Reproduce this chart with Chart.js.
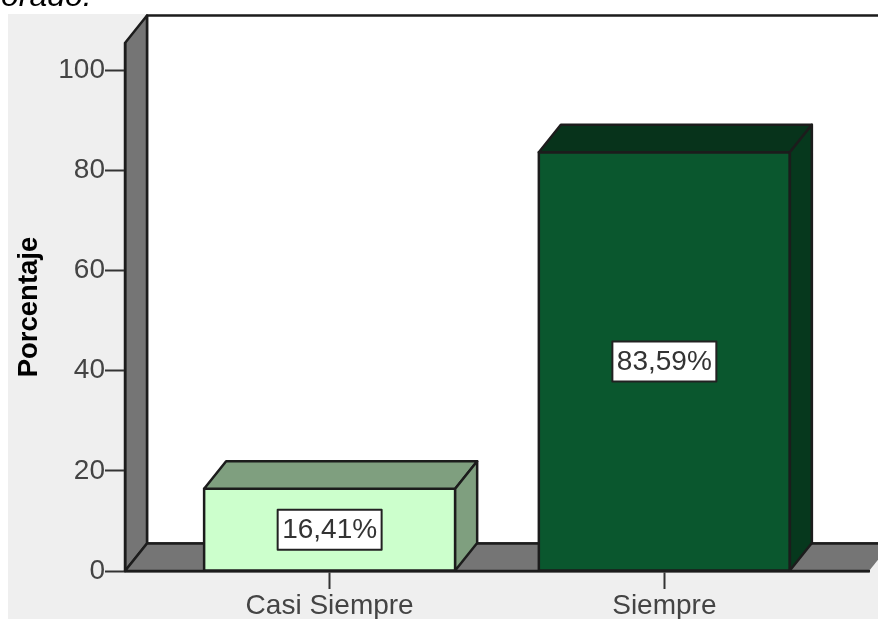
<!DOCTYPE html>
<html>
<head>
<meta charset="utf-8">
<title>Porcentaje</title>
<script src="https://cdn.jsdelivr.net/npm/chart.js@4/dist/chart.umd.min.js"></script>
<style>
    html, body { margin: 0; padding: 0; background: #fff; overflow: hidden; }
    #wrap { position: relative; width: 878px; height: 619px; overflow: hidden; }
    #clipped { position: absolute; left: 1px; top: -23px; font: italic 32px "Liberation Sans", Arial, sans-serif; color: #000; }
    canvas { display: block; }
</style>
</head>
<body>
<div id="wrap">
    <canvas id="chart" width="878" height="619"></canvas>
    <div id="clipped">orado.</div>
</div>
<script>
const categories = ['Casi Siempre', 'Siempre'];
const percentages = [16.41, 83.59];
const valueLabels = ['16,41%', '83,59%'];
const yTicks = [0, 20, 40, 60, 80, 100];

const barFront = ['#ccffcc', '#0a572e'];
const barSide = ['#7f9f7f', '#06381d'];
const barTop = ['#7f9f7f', '#07331b'];

const depthX = 22;
const depthY = 27.5;
const lineColor = '#1c1c1c';

function outline(ctx, points, fill, closed) {
    ctx.beginPath();
    points.forEach((p, i) => i ? ctx.lineTo(p[0], p[1]) : ctx.moveTo(p[0], p[1]));
    if (fill) {
        ctx.fillStyle = fill;
        ctx.fill();
    }
    if (closed) ctx.closePath();
    ctx.lineWidth = 2.5;
    ctx.strokeStyle = lineColor;
    ctx.lineJoin = 'round';
    ctx.stroke();
}

// panel background, drawn under the axes
const panel = {
    id: 'panel',
    beforeDraw(chart) {
        const { ctx, chartArea: a } = chart;
        ctx.save();
        ctx.fillStyle = '#efefef';
        ctx.fillRect(8, 14, 870, 605);
        outline(ctx, [[a.left + depthX, a.top - depthY], [a.right + depthX, a.top - depthY], [a.right + depthX, a.bottom - depthY], [a.left + depthX, a.bottom - depthY]], '#ffffff', true);
        outline(ctx, [[a.left, a.top], [a.left + depthX, a.top - depthY], [a.left + depthX, a.bottom - depthY], [a.left, a.bottom]], '#757575', true);
        // floor has no dark edge on its right end
        outline(ctx, [[a.right, a.bottom], [a.left, a.bottom], [a.left + depthX, a.bottom - depthY], [a.right + depthX, a.bottom - depthY]], '#757575', false);
        ctx.restore();
    }
};

// outline, top and side faces of the bars, then the value boxes
const bars3d = {
    id: 'bars3d',
    afterDatasetsDraw(chart) {
        const ctx = chart.ctx;
        chart.getDatasetMeta(0).data.forEach((bar, i) => {
            const p = bar.getProps(['x', 'y', 'base', 'width'], true);
            const l = p.x - p.width / 2;
            const r = p.x + p.width / 2;
            ctx.save();
            outline(ctx, [[l, p.y], [r, p.y], [r, p.base], [l, p.base]], null, true);
            outline(ctx, [[l, p.y], [l + depthX, p.y - depthY], [r + depthX, p.y - depthY], [r, p.y]], barTop[i], true);
            outline(ctx, [[r, p.y], [r + depthX, p.y - depthY], [r + depthX, p.base - depthY], [r, p.base]], barSide[i], true);

            ctx.font = '28px "Liberation Sans", Arial, sans-serif';
            const w = ctx.measureText(valueLabels[i]).width + 9;
            const h = 40;
            const cy = (p.y + p.base) / 2;
            ctx.fillStyle = '#ffffff';
            ctx.strokeStyle = '#222222';
            ctx.lineWidth = 2;
            ctx.fillRect(p.x - w / 2, cy - h / 2, w, h);
            ctx.strokeRect(p.x - w / 2, cy - h / 2, w, h);
            ctx.fillStyle = '#333333';
            ctx.textAlign = 'center';
            ctx.textBaseline = 'middle';
            ctx.fillText(valueLabels[i], p.x, cy + 1);
            ctx.restore();
        });
    }
};

new Chart(document.getElementById('chart'), {
    type: 'bar',
    data: {
        datasets: [{
            label: 'Porcentaje',
            data: categories.map((c, i) => ({ x: i, y: percentages[i] })),
            backgroundColor: barFront,
            borderWidth: 0,
            categoryPercentage: 0.75,
            barPercentage: 1
        }]
    },
    options: {
        responsive: false,
        animation: false,
        layout: { padding: { top: 43, right: 9, left: 0, bottom: 0 } },
        plugins: { legend: { display: false }, tooltip: { enabled: false } },
        scales: {
            x: {
                type: 'linear',
                offset: false,
                min: -0.6114,
                max: 1.6114,
                afterFit(scale) { scale.height = 48; },
                afterBuildTicks(scale) { scale.ticks = categories.map((c, i) => ({ value: i })); },
                grid: { offset: false, drawOnChartArea: false, tickLength: 18, tickColor: '#333333', tickWidth: 2 },
                border: { color: lineColor, width: 2.5 },
                ticks: {
                    maxRotation: 0,
                    padding: 0,
                    color: '#444444',
                    font: { family: '"Liberation Sans", Arial, sans-serif', size: 28 },
                    callback: value => categories[value]
                }
            },
            y: {
                min: 0,
                max: 105.4,
                afterFit(scale) { scale.width = 125; },
                afterBuildTicks(scale) { scale.ticks = yTicks.map(v => ({ value: v })); },
                grid: { drawOnChartArea: false, tickLength: 20, tickColor: '#333333', tickWidth: 2 },
                border: { color: lineColor, width: 2.5 },
                title: {
                    display: true,
                    text: 'Porcentaje',
                    color: '#000000',
                    padding: { top: 13, bottom: 0 },
                    font: { family: '"Liberation Sans", Arial, sans-serif', size: 27.5, weight: 'bold' }
                },
                ticks: {
                    padding: 0,
                    color: '#444444',
                    font: { family: '"Liberation Sans", Arial, sans-serif', size: 28 }
                }
            }
        }
    },
    plugins: [panel, bars3d]
});
</script>
</body>
</html>
